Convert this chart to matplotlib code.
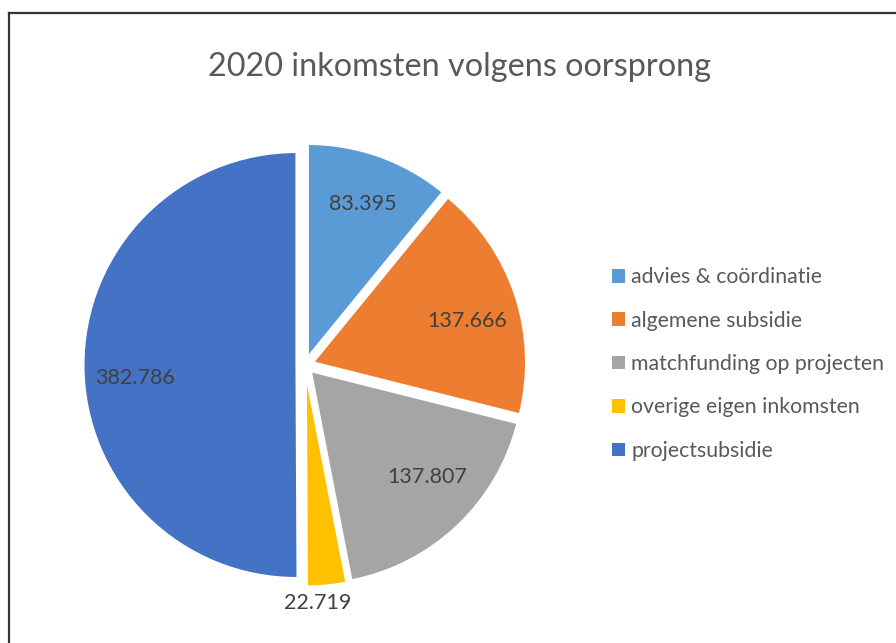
import matplotlib
matplotlib.use("Agg")
import matplotlib.pyplot as plt
import matplotlib.patches as mpatches
import numpy as np

plt.rcParams['font.family'] = ['Lato', 'DejaVu Sans']

# Data
categories = ['advies & coördinatie', 'algemene subsidie', 'matchfunding op projecten',
              'overige eigen inkomsten', 'projectsubsidie']
values = [83.395, 137.666, 137.807, 22.719, 382.786]
value_labels = ['83.395', '137.666', '137.807', '22.719', '382.786']
colors = ['#5B9BD5', '#ED7D31', '#A5A5A5', '#FFC000', '#4472C4']

W, H = 896, 643
fig = plt.figure(figsize=(W / 100, H / 100), dpi=100)
ax = fig.add_axes([0, 0, 1, 1])

explode = [0.04] * len(values)
wedges, _ = ax.pie(values, explode=explode, colors=colors, startangle=90,
                   counterclock=False, radius=1,
                   wedgeprops=dict(edgecolor='white', linewidth=1.5))

# pie center in pixels (from top-left) and radius -> set limits after pie()
cx, cy, r = 305, 365, 213
ax.set_aspect('equal')
ax.set_xlim(-cx / r, (W - cx) / r)
ax.set_ylim(-(H - cy) / r, cy / r)
ax.axis('off')

# value labels: distance from wedge center and angle tweak (deg) vs bisector
label_dist = [0.765, 0.75, 0.74, 1.08, 0.76]
label_rot = [0, -3.3, 4.3, -2.7, 4.6]
for w, txt, d, da in zip(wedges, value_labels, label_dist, label_rot):
    ang = np.deg2rad((w.theta1 + w.theta2) / 2 + da)
    x0, y0 = w.center
    ax.text(x0 + d * np.cos(ang), y0 + d * np.sin(ang), txt,
            ha='center', va='center', fontsize=15.5, color='#404040')

fig.text(460 / W, 1 - 67 / H, '2020 inkomsten volgens oorsprong',
         ha='center', va='center', fontsize=23.3, color='#595959')

handles = [mpatches.Patch(facecolor=c, edgecolor='none') for c in colors]
fig.legend(handles, categories, loc='center left',
           bbox_to_anchor=(593 / W, 1 - 364 / H), frameon=False,
           fontsize=15.3, labelcolor='#595959', labelspacing=1.1,
           handlelength=0.6, handleheight=0.6, handletextpad=0.3)

# chart border (top and left visible)
fig.add_artist(plt.Line2D([9 / W, 9 / W], [0, 1 - 13 / H], color='#333333', lw=1.6,
                          transform=fig.transFigure))
fig.add_artist(plt.Line2D([9 / W, 1], [1 - 13 / H, 1 - 13 / H], color='#333333', lw=1.6,
                          transform=fig.transFigure))

fig.savefig('out.png', dpi=100)
